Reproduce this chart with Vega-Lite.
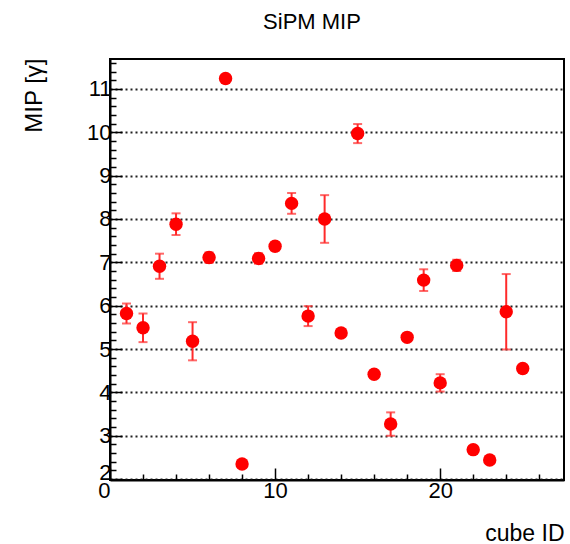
{
  "$schema": "https://vega.github.io/schema/vega-lite/v6.json",
  "autosize": {"type": "none"},
  "padding": {"left": 110, "top": 59, "right": 6, "bottom": 64},
  "width": 454,
  "height": 421,
  "background": "white",
  "title": {"text": "SiPM MIP", "font": "Liberation Sans", "fontSize": 22, "fontWeight": "normal", "color": "black", "anchor": "middle", "dx": -25, "baseline": "bottom", "offset": 28, "dy": 32},
  "data": {"values": [
    {"id": 1, "mip": 5.82, "err": 0.23},
    {"id": 2, "mip": 5.49, "err": 0.33},
    {"id": 3, "mip": 6.91, "err": 0.29},
    {"id": 4, "mip": 7.88, "err": 0.25},
    {"id": 5, "mip": 5.18, "err": 0.44},
    {"id": 6, "mip": 7.11, "err": 0.12},
    {"id": 7, "mip": 11.24, "err": 0.08},
    {"id": 8, "mip": 2.35, "err": 0.06},
    {"id": 9, "mip": 7.09, "err": 0.12},
    {"id": 10, "mip": 7.37, "err": 0.1},
    {"id": 11, "mip": 8.36, "err": 0.24},
    {"id": 12, "mip": 5.76, "err": 0.23},
    {"id": 13, "mip": 8.0, "err": 0.55},
    {"id": 14, "mip": 5.37, "err": 0.08},
    {"id": 15, "mip": 9.97, "err": 0.22},
    {"id": 16, "mip": 4.42, "err": 0.08},
    {"id": 17, "mip": 3.27, "err": 0.27},
    {"id": 18, "mip": 5.27, "err": 0.08},
    {"id": 19, "mip": 6.59, "err": 0.25},
    {"id": 20, "mip": 4.22, "err": 0.2},
    {"id": 21, "mip": 6.93, "err": 0.13},
    {"id": 22, "mip": 2.68, "err": 0.08},
    {"id": 23, "mip": 2.44, "err": 0.06},
    {"id": 24, "mip": 5.86, "err": 0.87},
    {"id": 25, "mip": 4.55, "err": 0.08}
  ]},
  "encoding": {
    "x": {"field": "id", "type": "quantitative", "scale": {"domain": [0, 27.5], "nice": false, "zero": false},
      "axis": {
        "values": [0, 2, 4, 6, 8, 10, 12, 14, 16, 18, 20, 22, 24, 26],
        "format": "d",
        "title": "cube ID", "titleFont": "Liberation Sans", "titleFontSize": 23, "titleFontWeight": "normal", "titleColor": "black",
        "titleAnchor": "end", "titleAlign": "right", "titleBaseline": "alphabetic", "titleY": 60,
        "labelFont": "Liberation Sans", "labelFontSize": 22, "labelFlush": false, "labelOverlap": false, "labelPadding": 12,
        "labelOpacity": {"condition": {"test": "abs(datum.value / 10 - round(datum.value / 10)) < 0.01", "value": 1}, "value": 0},
        "labelAlign": {"condition": {"test": "datum.value == 0", "value": "right"}, "value": "center"},
        "labelColor": "black",
        "tickSize": {"condition": {"test": "abs(datum.value / 10 - round(datum.value / 10)) < 0.01", "value": -12}, "value": -6},
        "tickColor": "black", "tickWidth": 1.5, "domainColor": "black", "domainWidth": 2, "grid": false
      }},
    "y": {"field": "mip", "type": "quantitative", "scale": {"domain": [1.98, 11.69], "nice": false, "zero": false},
      "axis": {
        "values": [2, 2.2, 2.4, 2.6, 2.8, 3, 3.2, 3.4, 3.6, 3.8, 4, 4.2, 4.4, 4.6, 4.8, 5, 5.2, 5.4, 5.6, 5.8, 6, 6.2, 6.4, 6.6, 6.8, 7, 7.2, 7.4, 7.6, 7.8, 8, 8.2, 8.4, 8.6, 8.8, 9, 9.2, 9.4, 9.6, 9.8, 10, 10.2, 10.4, 10.6, 10.8, 11, 11.2, 11.4, 11.6],
        "title": "MIP [γ]", "titleFont": "Liberation Sans", "titleFontSize": 24, "titleFontWeight": "normal", "titleColor": "black",
        "titleAnchor": "end", "titleAngle": -90, "titleAlign": "right", "titleBaseline": "alphabetic", "titleX": -69, "titleY": -1,
        "labelExpr": "abs(datum.value - round(datum.value)) < 0.01 ? format(datum.value, 'd') : ''",
        "labelFont": "Liberation Sans", "labelFontSize": 22, "labelColor": "black", "labelOverlap": false, "labelPadding": 11,
        "labelBaseline": {"condition": {"test": "datum.value == 2", "value": "alphabetic"}, "value": "middle"},
        "tickSize": {"condition": {"test": "abs(datum.value - round(datum.value)) < 0.01", "value": -12}, "value": -6},
        "tickColor": "black", "tickWidth": 1.5, "domainColor": "black", "domainWidth": 2,
        "grid": true, "gridColor": "#222222", "gridDash": [2, 3], "gridWidth": 1.8,
        "gridOpacity": {"condition": {"test": "abs(datum.value - round(datum.value)) < 0.01", "value": 1}, "value": 0}
      }}
  },
  "layer": [
    {
      "mark": {"type": "errorbar", "color": "#ff2a2a", "thickness": 2, "ticks": {"size": 9, "thickness": 2, "color": "#ff2a2a"}},
      "encoding": {"yError": {"field": "err"}}
    },
    {
      "mark": {"type": "circle", "color": "red", "opacity": 1, "size": 180}
    }
  ],
  "config": {"view": {"stroke": "black", "strokeWidth": 2}}
}
